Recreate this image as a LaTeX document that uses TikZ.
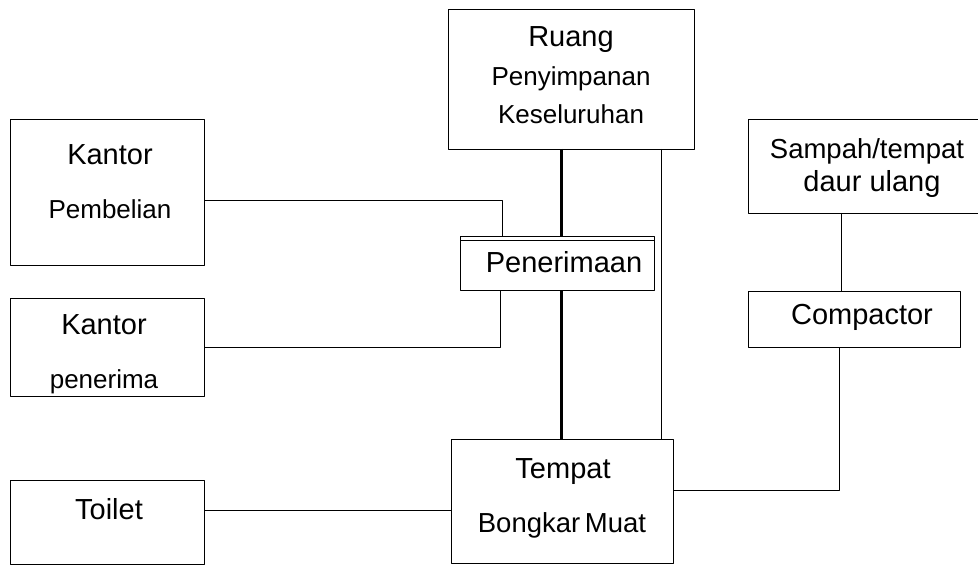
\documentclass[tikz,border=0pt]{standalone}
\usepackage{fontspec}
\setmainfont{Liberation Sans}
\usepackage{tikz}
\usetikzlibrary{positioning}
\newcommand{\bigtxt}{\fontsize{29bp}{34bp}\selectfont}
\newcommand{\smalltxt}{\fontsize{26bp}{31bp}\selectfont}

\begin{document}
\begin{tikzpicture}[x=1bp,y=-1bp,line join=bevel,
  room/.style={draw,line width=0.9bp,inner sep=0pt,outer sep=0pt},
  big/.style={anchor=base,inner sep=0pt,font=\bigtxt},
  small/.style={anchor=base,inner sep=0pt,font=\smalltxt},
  link/.style={line width=0.9bp},
  main link/.style={line width=3bp}]
\useasboundingbox (0,0) rectangle (978,565);
%%
\node (ruang) at (571,79) [room,minimum width=246bp,minimum height=140bp] {};
  \node (pembelian) at (107,192) [room,minimum width=194bp,minimum height=146bp] {};
  \node (penerima) at (107,347) [room,minimum width=194bp,minimum height=98bp] {};
  \node (penerimaan) at (557,263) [room,minimum width=194bp,minimum height=54bp] {};
  \node (tempat) at (562,501) [room,minimum width=222bp,minimum height=124bp] {};
  \node (toilet) at (107,522) [room,minimum width=194bp,minimum height=84bp] {};
  \node (sampah) at (866.5,166) [room,minimum width=237bp,minimum height=94bp] {};
  \node (compactor) at (854,319) [room,minimum width=212bp,minimum height=56bp] {};
%
\node (ruang1) at (571,47) [big] {Ruang};
  \node (ruang2) at (571,86) [small] {Penyimpanan};
  \node (ruang3) at (571,124) [small] {Keseluruhan};
  \node (pembelian1) at (110,165) [big] {Kantor};
  \node (pembelian2) at (110,219) [small] {Pembelian};
  \node (penerima1) at (104,334) [big] {Kantor};
  \node (penerima2) at (104,388) [small] {penerima};
  \node (penerimaan1) at (564,273) [big] {Penerimaan};
  \node (toilet1) at (109,519) [big] {Toilet};
  \node (tempat1) at (563,478) [big] {Tempat};
  \node (tempat2) at (562,532) [small,font=\fontsize{27.5bp}{32bp}\selectfont] {Bongkar\hspace{-3bp} Muat};
  \node (sampah1) at (867,159) [small,font=\fontsize{27.5bp}{32bp}\selectfont] {Sampah/tempat};
  \node (sampah2) at (872,192) [big] {daur ulang};
  \node (compactor1) at (862,324) [big] {Compactor};
%
\draw [link] ([yshift=-4bp]penerimaan.north west) -- ([yshift=-4bp]penerimaan.north east);
  \draw [main link] (ruang.south -| 561,0) -- (penerimaan.north -| 561,0);
  \draw [main link] (penerimaan.south -| 561,0) -- (tempat.north -| 561,0);
  \draw [link] (ruang.south -| 661,0) -- (tempat.north -| 661,0);
  \draw [link] (pembelian.east |- 0,200) -| (penerimaan.north -| 502,0);
  \draw [link] (penerima.east |- 0,347) -| (penerimaan.south -| 500,0);
  \draw [link] (toilet.east |- 0,510) -- (tempat.west |- 0,510);
  \draw [link] (tempat.east |- 0,490) -| (compactor.south -| 839,0);
  \draw [link] (sampah.south -| 841,0) -- (compactor.north -| 841,0);
%
\end{tikzpicture}
\end{document}
